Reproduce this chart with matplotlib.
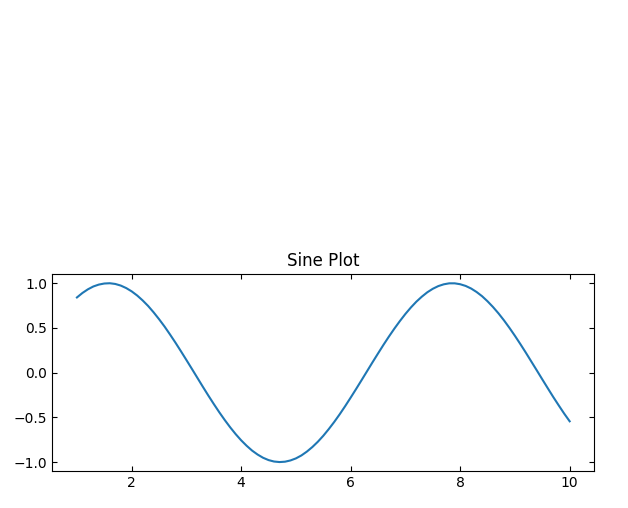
import matplotlib
matplotlib.use("Agg")
import matplotlib.pyplot as plt

# points, step 0.1
x_vals = [1.0, 1.1, 1.2, 1.3, 1.4, 1.5, 1.6, 1.7, 1.8, 1.9,
          2.0, 2.1, 2.2, 2.3, 2.4, 2.5, 2.6, 2.7, 2.8, 2.9,
          3.0, 3.1, 3.2, 3.3, 3.4, 3.5, 3.6, 3.7, 3.8, 3.9,
          4.0, 4.1, 4.2, 4.3, 4.4, 4.5, 4.6, 4.7, 4.8, 4.9,
          5.0, 5.1, 5.2, 5.3, 5.4, 5.5, 5.6, 5.7, 5.8, 5.9,
          6.0, 6.1, 6.2, 6.3, 6.4, 6.5, 6.6, 6.7, 6.8, 6.9,
          7.0, 7.1, 7.2, 7.3, 7.4, 7.5, 7.6, 7.7, 7.8, 7.9,
          8.0, 8.1, 8.2, 8.3, 8.4, 8.5, 8.6, 8.7, 8.8, 8.9,
          9.0, 9.1, 9.2, 9.3, 9.4, 9.5, 9.6, 9.7, 9.8, 9.9,
          10.0]
y_vals = [0.841, 0.891, 0.932, 0.964, 0.985, 0.997, 1.000, 0.992, 0.974, 0.946,
          0.909, 0.863, 0.808, 0.746, 0.675, 0.598, 0.516, 0.427, 0.335, 0.239,
          0.141, 0.042, -0.058, -0.158, -0.256, -0.351, -0.443, -0.530, -0.612, -0.688,
          -0.757, -0.818, -0.872, -0.916, -0.952, -0.978, -0.994, -1.000, -0.996, -0.982,
          -0.959, -0.926, -0.883, -0.832, -0.773, -0.706, -0.631, -0.551, -0.465, -0.374,
          -0.279, -0.182, -0.083, 0.017, 0.117, 0.215, 0.312, 0.405, 0.494, 0.578,
          0.657, 0.729, 0.794, 0.850, 0.899, 0.938, 0.968, 0.988, 0.999, 0.999,
          0.989, 0.970, 0.941, 0.902, 0.855, 0.798, 0.734, 0.663, 0.585, 0.501,
          0.412, 0.319, 0.223, 0.124, 0.025, -0.075, -0.174, -0.272, -0.366, -0.458,
          -0.544]

title = "Sine Plot"

fig = plt.figure(figsize=(6.28, 5.08), dpi=100)
ax = fig.add_axes([52.3 / 628, 1 - 471 / 508, (594.3 - 52.3) / 628, (471 - 274.3) / 508])

ax.plot(x_vals, y_vals, color="#1f77b4", linewidth=1.5)
ax.set_title(title)
ax.tick_params(direction="in", top=True, right=True)
ax.set_xticks([2, 4, 6, 8, 10])
ax.set_yticks([-1.0, -0.5, 0.0, 0.5, 1.0])

fig.savefig("out.png", dpi=100)
